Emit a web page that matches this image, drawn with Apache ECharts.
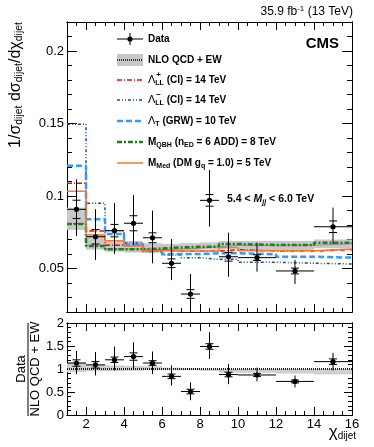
<!DOCTYPE html>
<html>
<head>
<meta charset="utf-8">
<script src="https://cdn.jsdelivr.net/npm/echarts@6/dist/echarts.min.js"></script>
<style>html,body{margin:0;padding:0;background:#fff}#chart{width:374px;height:447px}</style>
</head>
<body>
<div id="chart"></div>
<script>
const FONT = 'Liberation Sans, Arial, Helvetica, sans-serif'

// bins in chi_dijet
const edges = [1, 2, 3, 4, 5, 6, 7, 8, 9, 10, 12, 14, 16]
const centers = [1.5, 2.5, 3.5, 4.5, 5.5, 6.5, 7.5, 8.5, 9.5, 11, 13, 15]

// data, upper panel
const dataVal = [0.0908, 0.0719, 0.0761, 0.0812, 0.0712, 0.0536, 0.0324, 0.0970, 0.0581, 0.0575, 0.0483, 0.0788]
const dataErrUp = [0.0207, 0.0190, 0.0190, 0.0195, 0.0187, 0.0167, 0.0138, 0.0210, 0.0166, 0.0103, 0.0076, 0.0132]
const dataErrDn = [0.0184, 0.0160, 0.0160, 0.0150, 0.0176, 0.0116, 0.0160, 0.0180, 0.0138, 0.0097, 0.0090, 0.0119]
const dataStat = [0.0063, 0.0050, 0.0043, 0.0052, 0.0034, 0.0030, 0.0030, 0.0040, 0.0030, 0.0020, 0.0020, 0.0040]

// NLO QCD + EW prediction and its band
const qcd = [0.0810, 0.0660, 0.0635, 0.0635, 0.0630, 0.0635, 0.0640, 0.0650, 0.0660, 0.0660, 0.0660, 0.0670]
const qcdLo = [0.0766, 0.0630, 0.0616, 0.0610, 0.0615, 0.0620, 0.0625, 0.0630, 0.0640, 0.0627, 0.0627, 0.0640]
const qcdHi = [0.0920, 0.0735, 0.0697, 0.0690, 0.0674, 0.0670, 0.0675, 0.0680, 0.0690, 0.0690, 0.0690, 0.0700]

// signal models
const ciPlus = [0.1088, 0.0759, 0.0660, 0.0660, 0.0625, 0.0620, 0.0620, 0.0620, 0.0630, 0.0620, 0.0620, 0.0630]
const ciMinus = [0.1494, 0.0950, 0.0759, 0.0676, 0.0616, 0.0593, 0.0575, 0.0563, 0.0563, 0.0543, 0.0536, 0.0531]
const grw = [0.1209, 0.0839, 0.0738, 0.0662, 0.0620, 0.0600, 0.0600, 0.0605, 0.0605, 0.0598, 0.0581, 0.0575]
const qbh = [0.0807, 0.0655, 0.0632, 0.0632, 0.0638, 0.0645, 0.0650, 0.0650, 0.0669, 0.0662, 0.0662, 0.0678]
const dm = [0.1032, 0.0731, 0.0692, 0.0655, 0.0622, 0.0620, 0.0620, 0.0620, 0.0643, 0.0623, 0.0623, 0.0634]

// ratio panel
const ratio = [1.13, 1.09, 1.20, 1.27, 1.13, 0.84, 0.51, 1.49, 0.88, 0.87, 0.73, 1.16]
const ratioUp = [0.26, 0.28, 0.29, 0.31, 0.25, 0.24, 0.20, 0.31, 0.23, 0.16, 0.13, 0.19]
const ratioDn = [0.24, 0.23, 0.23, 0.27, 0.24, 0.20, 0.19, 0.27, 0.21, 0.14, 0.13, 0.19]
const ratioStat = [0.07, 0.07, 0.06, 0.08, 0.05, 0.05, 0.05, 0.06, 0.05, 0.03, 0.03, 0.06]
const ratioBandLo = [0.93, 0.95, 0.95, 0.96, 0.97, 0.97, 0.97, 0.96, 0.92, 0.92, 0.90, 0.88]
const ratioBandHi = [1.14, 1.09, 1.08, 1.07, 1.06, 1.03, 1.02, 1.01, 1.00, 1.00, 1.00, 1.00]

// ticks
const xMajor = [2, 4, 6, 8, 10, 12, 14, 16]
const yMajorTop = [0.05, 0.1, 0.15, 0.2]
const yMajorBottom = [0, 0.5, 1, 1.5, 2]

function steps(vals) {
  let out = []
  vals.forEach((v, i) => { out.push([edges[i], v], [edges[i + 1], v]) })
  return out
}

function xAxisDef(grid, pos, major, labels) {
  return {
    type: 'value', gridIndex: grid, position: pos, min: 1, max: 16, interval: 0.5,
    axisLine: {show: true, onZero: false, lineStyle: {color: '#000', width: 1}},
    axisTick: major
      ? {show: true, inside: true, length: 8, customValues: xMajor, lineStyle: {color: '#000'}}
      : {show: true, inside: true, length: 4, lineStyle: {color: '#000'}},
    axisLabel: labels
      ? {show: true, customValues: xMajor, color: '#000', fontFamily: FONT, fontSize: 13, margin: 3}
      : {show: false},
    splitLine: {show: false}
  }
}

function yAxisDef(grid, pos, major, c) {
  return {
    type: 'value', gridIndex: grid, position: pos, min: c.min, max: c.max, interval: c.minor,
    axisLine: {show: true, onZero: false, lineStyle: {color: '#000', width: 1}},
    axisTick: major
      ? {show: true, inside: true, length: c.majorLen, customValues: c.ticks, lineStyle: {color: '#000'}}
      : {show: true, inside: true, length: c.minorLen, lineStyle: {color: '#000'}},
    axisLabel: (major && pos === 'left')
      ? {show: true, customValues: c.ticks, color: '#000', fontFamily: FONT, fontSize: 13, margin: 3,
         formatter: v => String(+(+v).toFixed(3))}
      : {show: false},
    splitLine: {show: false}
  }
}

const yTop = {min: 0.02, max: 0.22, minor: 0.01, ticks: yMajorTop, majorLen: 10, minorLen: 5}
const yBot = {min: 0, max: 2, minor: 0.1, ticks: yMajorBottom, majorLen: 8, minorLen: 4}

function clampY(y, cs) {
  return Math.max(cs.y, Math.min(cs.y + cs.height, y))
}

// box per bin: [lo, hi, low, high]
function bandItem(params, api, fill) {
  let p0 = api.coord([api.value(0), api.value(3)])
  let p1 = api.coord([api.value(1), api.value(2)])
  return {type: 'rect', shape: {x: p0[0], y: p0[1], width: p1[0] - p0[0], height: p1[1] - p0[1]},
    style: {fill: fill}}
}

// point per bin: [x, y, up, down, stat, lo, hi]
function pointItem(params, api) {
  let cs = params.coordSys
  let x = api.value(0), y = api.value(1)
  let c = api.coord([x, y])
  let top = clampY(api.coord([x, y + api.value(2)])[1], cs)
  let bot = clampY(api.coord([x, y - api.value(3)])[1], cs)
  let s1 = api.coord([x, y + api.value(4)])[1]
  let s2 = api.coord([x, y - api.value(4)])[1]
  let l = api.coord([api.value(5), y])[0]
  let r = api.coord([api.value(6), y])[0]
  let st = {stroke: '#000', lineWidth: 1}
  return {type: 'group', children: [
    {type: 'line', shape: {x1: c[0], y1: top, x2: c[0], y2: bot}, style: st},
    {type: 'line', shape: {x1: l, y1: c[1], x2: r, y2: c[1]}, style: st},
    {type: 'line', shape: {x1: c[0] - 4, y1: s1, x2: c[0] + 4, y2: s1}, style: st},
    {type: 'line', shape: {x1: c[0] - 4, y1: s2, x2: c[0] + 4, y2: s2}, style: st},
    {type: 'circle', shape: {cx: c[0], cy: c[1], r: 2.6}, style: {fill: '#000'}}
  ]}
}

function stepSeries(name, vals, color, width, dash) {
  return {
    name: name, type: 'line', xAxisIndex: 0, yAxisIndex: 0, data: steps(vals),
    symbol: 'none', lineStyle: {color: color, width: width, type: dash}, z: 3
  }
}

const models = [
  {name: 'CI+', vals: ciPlus, color: '#ff0000', width: 1.5, dash: [5, 2, 1, 2]},
  {name: 'CI-', vals: ciMinus, color: '#224a8f', width: 1.5, dash: [3, 2, 1, 2, 1, 2]},
  {name: 'GRW', vals: grw, color: '#3399ff', width: 2.5, dash: [6, 3]},
  {name: 'QBH', vals: qbh, color: '#1f7f1f', width: 2.5, dash: [5, 2, 2, 2]},
  {name: 'DM', vals: dm, color: '#ff7722', width: 1.5, dash: 'solid'}
]

let series = [
  {type: 'custom', xAxisIndex: 0, yAxisIndex: 0, z: 1, clip: true,
   data: centers.map((c, i) => [edges[i], edges[i + 1], qcdLo[i], qcdHi[i]]),
   encode: {x: [0, 1], y: [2, 3]},
   renderItem: (p, a) => bandItem(p, a, '#c8c8c8')},
  {type: 'line', xAxisIndex: 0, yAxisIndex: 0, data: steps(qcd), symbol: 'none', z: 2,
   lineStyle: {color: '#555', width: 1, type: [1, 1]}}
]
models.forEach(m => series.push(stepSeries(m.name, m.vals, m.color, m.width, m.dash)))
series.push({
  type: 'custom', xAxisIndex: 0, yAxisIndex: 0, z: 5, clip: true,
  data: centers.map((c, i) => [c, dataVal[i], dataErrUp[i], dataErrDn[i], dataStat[i], edges[i], edges[i + 1]]),
  encode: {x: 0, y: 1},
  renderItem: pointItem
})
series.push({
  type: 'custom', xAxisIndex: 4, yAxisIndex: 4, z: 1, clip: true,
  data: centers.map((c, i) => [edges[i], edges[i + 1], ratioBandLo[i], ratioBandHi[i]]),
  encode: {x: [0, 1], y: [2, 3]},
  renderItem: (p, a) => bandItem(p, a, '#cfcfcf')
})
series.push({
  type: 'line', xAxisIndex: 4, yAxisIndex: 4, data: [[1, 1], [16, 1]], symbol: 'none', z: 2,
  lineStyle: {color: '#222', width: 2, type: [1, 1]}
})
series.push({
  type: 'custom', xAxisIndex: 4, yAxisIndex: 4, z: 5, clip: true,
  data: centers.map((c, i) => [c, ratio[i], ratioUp[i], ratioDn[i], ratioStat[i], edges[i], edges[i + 1]]),
  encode: {x: 0, y: 1},
  renderItem: pointItem
})

// legend drawn by hand, ROOT style
const rowY = [39, 60, 80, 100, 121, 142, 163]
const ix1 = 117, ix2 = 143, tx = 148
const rich = {
  b: {fontFamily: FONT, fontWeight: 'bold', fontSize: 10, lineHeight: 14, fill: '#000'},
  g: {fontFamily: FONT, fontSize: 11, lineHeight: 14, fill: '#000'},
  sub: {fontFamily: FONT, fontWeight: 'bold', fontSize: 7, lineHeight: 5, verticalAlign: 'bottom', fill: '#000'}
}
function legText(y, t) {
  return {type: 'text', x: tx, y: y, style: {text: t, rich: rich, verticalAlign: 'middle', textVerticalAlign: 'middle'}}
}
function legLine(y, m) {
  return {type: 'line', shape: {x1: ix1, y1: y, x2: ix2, y2: y},
    style: {stroke: m.color, lineWidth: m.width, lineDash: m.dash === 'solid' ? null : m.dash}}
}
function small(x, y, t) {
  return {type: 'text', x: x, y: y, style: {text: t, fontFamily: FONT, fontSize: 8, fontWeight: 'bold', fill: '#000',
    align: 'center', textAlign: 'center', verticalAlign: 'middle', textVerticalAlign: 'middle'}}
}

let legend = [
  {type: 'line', shape: {x1: ix1, y1: rowY[0], x2: ix2, y2: rowY[0]}, style: {stroke: '#000', lineWidth: 1}},
  {type: 'line', shape: {x1: 130, y1: rowY[0] - 6, x2: 130, y2: rowY[0] + 6}, style: {stroke: '#000', lineWidth: 1}},
  {type: 'circle', shape: {cx: 130, cy: rowY[0], r: 2.6}, style: {fill: '#000'}},
  legText(rowY[0], '{b|Data}'),
  {type: 'rect', shape: {x: ix1, y: rowY[1] - 6, width: ix2 - ix1, height: 12}, style: {fill: '#c8c8c8'}},
  {type: 'line', shape: {x1: ix1, y1: rowY[1], x2: ix2, y2: rowY[1]}, style: {stroke: '#333', lineWidth: 2, lineDash: [1, 1]}},
  legText(rowY[1], '{b|NLO QCD + EW}'),
  legLine(rowY[2], models[0]),
  legText(rowY[2], '{g|Λ}{sub|LL}{b| (CI) = 14 TeV}'),
  small(158.5, rowY[2] - 5, '+'),
  legLine(rowY[3], models[1]),
  legText(rowY[3], '{g|Λ}{sub|LL}{b| (CI) = 14 TeV}'),
  small(158.5, rowY[3] - 5, '−'),
  legLine(rowY[4], models[2]),
  legText(rowY[4], '{g|Λ}{sub|T}{b| (GRW) = 10 TeV}'),
  legLine(rowY[5], models[3]),
  legText(rowY[5], '{b|M}{sub|QBH}{b| (n}{sub|ED}{b| = 6 ADD) = 8 TeV}'),
  legLine(rowY[6], models[4]),
  legText(rowY[6], '{b|M}{sub|Med}{b| (DM g}{sub|q}{b| = 1.0) = 5 TeV}')
]

const titleRich = {
  m: {fontFamily: FONT, fontSize: 16, lineHeight: 18, fill: '#000'},
  s: {fontFamily: FONT, fontSize: 10.5, lineHeight: 5, verticalAlign: 'bottom', fill: '#000'}
}

let texts = [
  // luminosity label
  {type: 'text', x: 353, y: 12, style: {
    text: '{n|35.9 fb}{u|-1}{n| (13 TeV)}',
    rich: {n: {fontFamily: FONT, fontSize: 12, lineHeight: 14, fill: '#000'},
           u: {fontFamily: FONT, fontSize: 8, lineHeight: 5, verticalAlign: 'top', fill: '#000'}},
    align: 'right', textAlign: 'right', verticalAlign: 'middle', textVerticalAlign: 'middle'}},
  {type: 'text', x: 339, y: 44, style: {text: 'CMS', fontFamily: FONT, fontSize: 15, fontWeight: 'bold', fill: '#000',
    align: 'right', textAlign: 'right', verticalAlign: 'middle', textVerticalAlign: 'middle'}},
  {type: 'text', x: 227, y: 199, style: {
    text: '{b|5.4 < }{i|M}{s|jj}{b| < 6.0 TeV}',
    rich: {b: {fontFamily: FONT, fontWeight: 'bold', fontSize: 10.5, lineHeight: 14, fill: '#000'},
           i: {fontFamily: FONT, fontWeight: 'bold', fontStyle: 'italic', fontSize: 10.5, lineHeight: 14, fill: '#000'},
           s: {fontFamily: FONT, fontWeight: 'bold', fontStyle: 'italic', fontSize: 7, lineHeight: 5, verticalAlign: 'bottom', fill: '#000'}},
    verticalAlign: 'middle', textVerticalAlign: 'middle'}},
  // y title, upper
  {type: 'text', x: 16, y: 22, rotation: Math.PI / 2, style: {
    text: '{m|1/σ}{s|dijet}{m| dσ}{s|dijet}{m|/dχ}{s|dijet}', rich: titleRich,
    align: 'right', textAlign: 'right', verticalAlign: 'middle', textVerticalAlign: 'middle'}},
  // ratio title
  {type: 'text', x: 21, y: 369, rotation: Math.PI / 2, style: {text: 'Data', fontFamily: FONT, fontSize: 13, fill: '#000',
    align: 'center', textAlign: 'center', verticalAlign: 'middle', textVerticalAlign: 'middle'}},
  {type: 'line', shape: {x1: 28, y1: 323, x2: 28, y2: 416}, style: {stroke: '#000', lineWidth: 1}},
  {type: 'text', x: 35, y: 369, rotation: Math.PI / 2, style: {text: 'NLO QCD + EW', fontFamily: FONT, fontSize: 13, fill: '#000',
    align: 'center', textAlign: 'center', verticalAlign: 'middle', textVerticalAlign: 'middle'}},
  // x title
  {type: 'text', x: 356, y: 432, style: {
    text: '{m|χ}{s|dijet}',
    rich: {m: {fontFamily: FONT, fontSize: 17, lineHeight: 18, fill: '#000'},
           s: {fontFamily: FONT, fontSize: 10, lineHeight: 5, verticalAlign: 'bottom', fill: '#000'}},
    align: 'right', textAlign: 'right', verticalAlign: 'middle', textVerticalAlign: 'middle'}}
]

let option = {
  animation: false,
  backgroundColor: '#fff',
  grid: [
    {left: 67, top: 22, width: 285, height: 290},
    {left: 67, top: 323, width: 285, height: 92}
  ],
  xAxis: [
    xAxisDef(0, 'bottom', true, false), xAxisDef(0, 'bottom', false, false),
    xAxisDef(0, 'top', true, false), xAxisDef(0, 'top', false, false),
    xAxisDef(1, 'bottom', true, true), xAxisDef(1, 'bottom', false, false),
    xAxisDef(1, 'top', true, false), xAxisDef(1, 'top', false, false)
  ],
  yAxis: [
    yAxisDef(0, 'left', true, yTop), yAxisDef(0, 'left', false, yTop),
    yAxisDef(0, 'right', true, yTop), yAxisDef(0, 'right', false, yTop),
    yAxisDef(1, 'left', true, yBot), yAxisDef(1, 'left', false, yBot),
    yAxisDef(1, 'right', true, yBot), yAxisDef(1, 'right', false, yBot)
  ],
  series: series,
  graphic: {elements: legend.concat(texts)}
}

let chart = echarts.init(document.getElementById('chart'))
chart.setOption(option)
</script>
</body>
</html>
